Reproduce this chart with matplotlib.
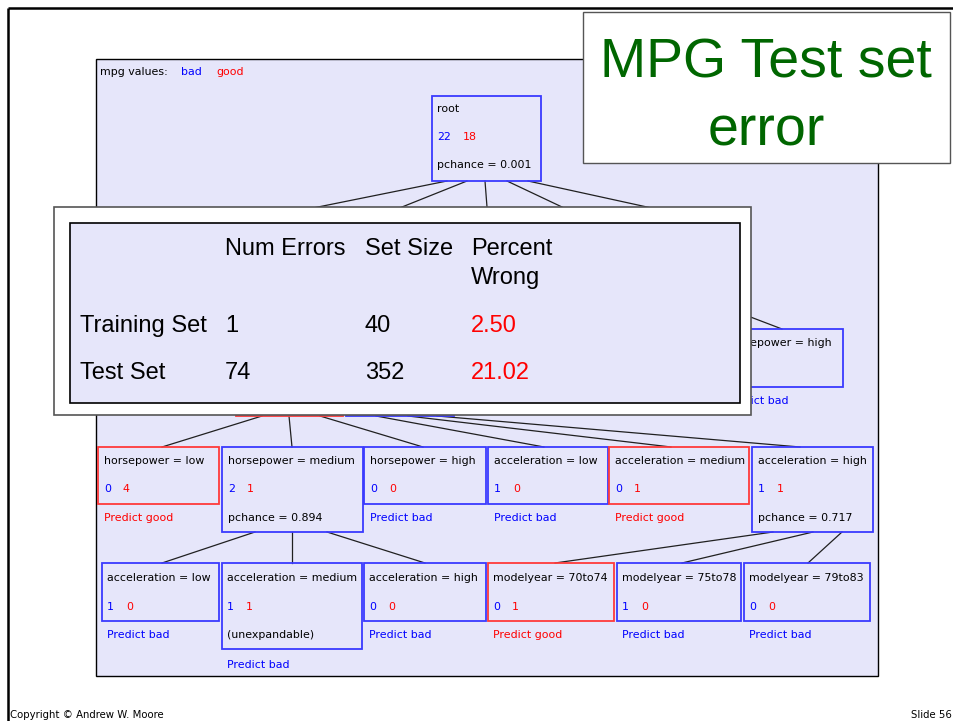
import matplotlib
matplotlib.use("Agg")
import matplotlib.pyplot as plt
from matplotlib.patches import Rectangle

# ---------------- data ----------------
legend_title = "mpg values:"
class_names = ["bad", "good"]

root_label = "root"
root_bad, root_good = 22, 18
root_note = "pchance = 0.001"

hidden_label = "horsepower = high"
hidden_note = "Predict bad"

l3_labels = ["horsepower = low", "horsepower = medium", "horsepower = high",
             "acceleration = low", "acceleration = medium", "acceleration = high"]
l3_bad = [0, 2, 0, 1, 0, 1]
l3_good = [4, 1, 0, 0, 1, 1]
l3_predict = ["good", None, "bad", "bad", "good", None]
l3_pchance = [None, "0.894", None, None, None, "0.717"]

l4_labels = ["acceleration = low", "acceleration = medium", "acceleration = high",
             "modelyear = 70to74", "modelyear = 75to78", "modelyear = 79to83"]
l4_bad = [1, 1, 0, 0, 1, 0]
l4_good = [0, 1, 0, 1, 0, 0]
l4_predict = ["bad", "bad", "bad", "good", "bad", "bad"]
l4_unexpandable = [False, True, False, False, False, False]

tbl_cols = ["Num Errors", "Set Size", "Percent\nWrong"]
tbl_rows = ["Training Set", "Test Set"]
tbl_errors = [1, 74]
tbl_sizes = [40, 352]
tbl_percent = [2.50, 21.02]

title_lines = ["MPG Test set", "error"]
footer_left = "Copyright \u00a9 Andrew W. Moore"
footer_right = "Slide 56"

# ---------------- layout (pixels) ----------------
L3_X = [(98, 219), (222, 363), (364, 486), (488, 608), (609, 749), (752, 873)]
L3_TOP = 447
L4_X = [(102, 219), (222, 362), (364, 486), (488, 614), (617, 741), (744, 870)]
L4_TOP = 563

BLUE_T = "#0000FF"
RED_T = "#FF0000"
BLUE_B = "#3A3AFF"
RED_B = "#FF3A3A"
LAV = "#E6E6FA"
TREE_FONT = dict(family="DejaVu Sans", fontsize=7.9)

fig = plt.figure(figsize=(9.54, 7.21), dpi=100)
ax = fig.add_axes([0, 0, 1, 1])
ax.set_xlim(0, 954)
ax.set_ylim(721, 0)
ax.axis("off")

# slide border
ax.plot([8, 8], [721, 8], color="black", lw=1.8, zorder=1, solid_capstyle="butt")
ax.plot([8, 954], [8, 8], color="black", lw=1.8, zorder=1, solid_capstyle="butt")

# tree panel
ax.add_patch(Rectangle((96, 59), 782, 617, facecolor=LAV, edgecolor="black", lw=1.0, zorder=1))

ax.text(100, 72, legend_title, color="black", va="center", ha="left", zorder=5, **TREE_FONT)
ax.text(181, 72, class_names[0], color=BLUE_T, va="center", ha="left", zorder=5, **TREE_FONT)
ax.text(216, 72, class_names[1], color=RED_T, va="center", ha="left", zorder=5, **TREE_FONT)


def edge(x0, y0, x1, y1):
    ax.plot([x0, x1], [y0, y1], color="#202020", lw=0.9, zorder=2)


def counts(x, y, bad, good):
    ax.text(x, y, str(bad), color=BLUE_T, va="center", ha="left", zorder=5, **TREE_FONT)
    ax.text(x + 7.0 * len(str(bad)) + 12, y, str(good), color=RED_T,
            va="center", ha="left", zorder=5, **TREE_FONT)


def box(x0, x1, top, h, color):
    ax.add_patch(Rectangle((x0, top), x1 - x0, h, facecolor="none",
                           edgecolor=color, lw=1.3, zorder=3))


# root
box(432, 541, 96, 85, BLUE_B)
ax.text(437, 109, root_label, color="black", va="center", ha="left", zorder=5, **TREE_FONT)
counts(437, 137, root_bad, root_good)
ax.text(437, 165, root_note, color="black", va="center", ha="left", zorder=5, **TREE_FONT)

# root edges (continue under table)
for xs, xe in [(447, 318), (467, 402), (485, 487), (507, 562), (528, 647)]:
    edge(xs, 181, xe + (xe - xs) * 0.3, 181 + 26 * 1.3)

# partially hidden level-2 node
edge(740, 313, 782, 329)
box(721, 843, 329, 58, BLUE_B)
ax.text(726, 343, hidden_label, color="black", va="center", ha="left", zorder=5, **TREE_FONT)
ax.text(726, 401, hidden_note, color=BLUE_T, va="center", ha="left", zorder=5, **TREE_FONT)

# partially hidden parents of level 3
box(236, 343, 340, 76, RED_B)
box(346, 454, 340, 76, BLUE_B)
for xs, xe in [(262, 162), (289, 292), (320, 423)]:
    edge(xs, 416, xe, L3_TOP)
for xs, xe in [(376, 544), (408, 671), (437, 800)]:
    edge(xs, 416, xe, L3_TOP)

# level 3
for i, (x0, x1) in enumerate(L3_X):
    pred = l3_predict[i]
    internal = l3_pchance[i] is not None
    h = 85 if internal else 57
    col = RED_B if pred == "good" else BLUE_B
    box(x0, x1, L3_TOP, h, col)
    ax.text(x0 + 6, L3_TOP + 14, l3_labels[i], color="black", va="center", ha="left", zorder=5, **TREE_FONT)
    counts(x0 + 6, L3_TOP + 42, l3_bad[i], l3_good[i])
    if internal:
        ax.text(x0 + 6, L3_TOP + 71, "pchance = " + l3_pchance[i], color="black",
                va="center", ha="left", zorder=5, **TREE_FONT)
    else:
        ax.text(x0 + 6, L3_TOP + 71, "Predict " + pred, color=RED_T if pred == "good" else BLUE_T,
                va="center", ha="left", zorder=5, **TREE_FONT)

# edges level 3 -> level 4
for xs, xe in [(255, 162), (292, 292), (327, 425)]:
    edge(xs, 532, xe, L4_TOP)
for xs, xe in [(773, 555), (813, 682), (842, 808)]:
    edge(xs, 532, xe, L4_TOP)

# level 4
for i, (x0, x1) in enumerate(L4_X):
    pred = l4_predict[i]
    col = RED_B if pred == "good" else BLUE_B
    h = 86 if l4_unexpandable[i] else 58
    box(x0, x1, L4_TOP, h, col)
    ax.text(x0 + 5, L4_TOP + 15, l4_labels[i], color="black", va="center", ha="left", zorder=5, **TREE_FONT)
    counts(x0 + 5, L4_TOP + 44, l4_bad[i], l4_good[i])
    py = L4_TOP + 72
    if l4_unexpandable[i]:
        ax.text(x0 + 5, py, "(unexpandable)", color="black", va="center", ha="left", zorder=5, **TREE_FONT)
        py = L4_TOP + 102
    ax.text(x0 + 5, py, "Predict " + pred, color=RED_T if pred == "good" else BLUE_T,
            va="center", ha="left", zorder=5, **TREE_FONT)

# ---------------- table overlay ----------------
ax.add_patch(Rectangle((54, 207), 697, 208, facecolor="white", edgecolor="#555555", lw=1.2, zorder=10))
ax.add_patch(Rectangle((70, 223), 670, 180, facecolor=LAV, edgecolor="black", lw=1.2, zorder=11))
TF = dict(family="Liberation Sans", fontsize=17, zorder=12, va="baseline", ha="left")
col_x = [225, 365, 471]
ax.text(col_x[0], 255, tbl_cols[0], color="black", **TF)
ax.text(col_x[1], 255, tbl_cols[1], color="black", **TF)
c3a, c3b = tbl_cols[2].split("\n")
ax.text(col_x[2], 255, c3a, color="black", **TF)
ax.text(col_x[2], 284, c3b, color="black", **TF)
row_y = [332, 379]
for j in range(2):
    ax.text(80, row_y[j], tbl_rows[j], color="black", **TF)
    ax.text(col_x[0], row_y[j], str(tbl_errors[j]), color="black", **TF)
    ax.text(col_x[1], row_y[j], str(tbl_sizes[j]), color="black", **TF)
    ax.text(col_x[2], row_y[j], "%.2f" % tbl_percent[j], color=RED_T, **TF)

# ---------------- title box ----------------
ax.add_patch(Rectangle((583, 12), 367, 151, facecolor="white", edgecolor="#555555", lw=1.0, zorder=10))
ax.text(766, 77, title_lines[0], color="#006600", family="Liberation Sans", fontsize=40,
        ha="center", va="baseline", zorder=12)
ax.text(766, 146, title_lines[1], color="#006600", family="Liberation Sans", fontsize=40,
        ha="center", va="baseline", zorder=12)

# ---------------- footer ----------------
ax.text(10, 718, footer_left, color="black", family="DejaVu Sans", fontsize=7.3,
        ha="left", va="baseline", zorder=12)
ax.text(952, 718, footer_right, color="black", family="DejaVu Sans", fontsize=7.3,
        ha="right", va="baseline", zorder=12)

fig.savefig("out.png", dpi=100)
